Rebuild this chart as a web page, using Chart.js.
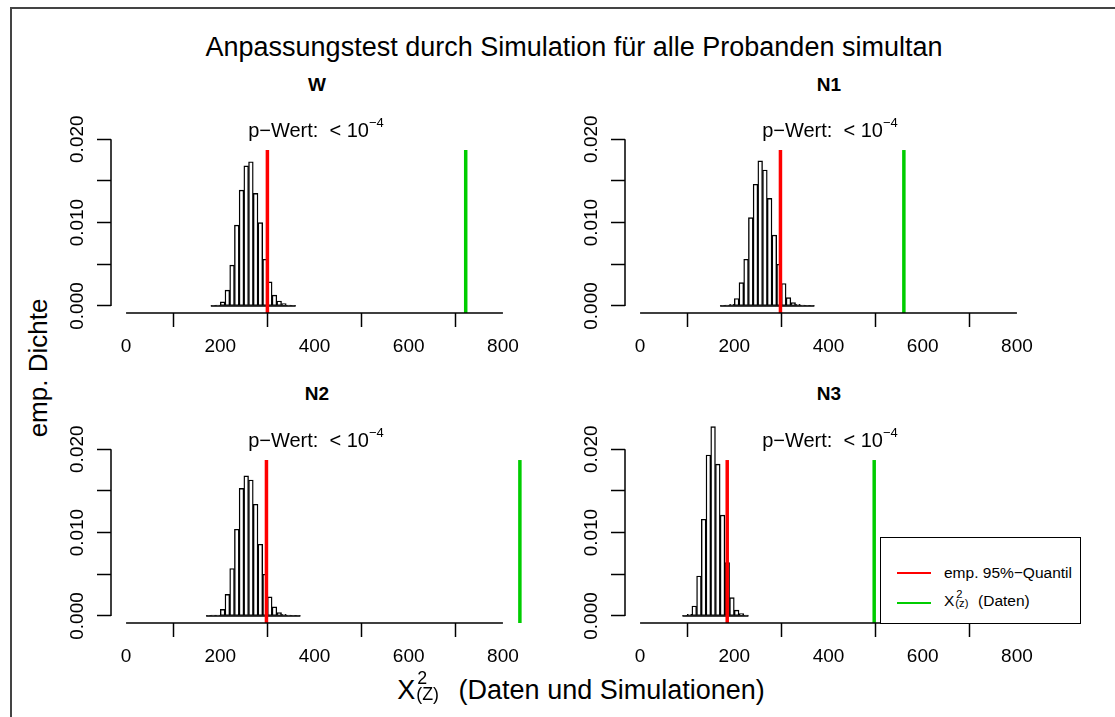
<!DOCTYPE html>
<html>
<head>
<meta charset="utf-8">
<script src="https://cdn.jsdelivr.net/npm/chart.js@4.4.1/dist/chart.umd.min.js"></script>
<style>
  body { margin: 0; background: #fff; }
  #page { position: relative; width: 1115px; height: 717px; overflow: hidden;
          font-family: "Liberation Sans", Arial, Helvetica, sans-serif; color: #000; }
  #frame { position: absolute; left: 10px; top: 7px; width: 1200px; height: 800px;
           border-left: 2px solid #444; border-top: 2px solid #444; }
  canvas { position: absolute; }
  .txt { position: absolute; white-space: nowrap; transform: translate(-50%, -50%); line-height: 1; }
  .ptitle { font-weight: bold; font-size: 19px; }
  .pval { font-size: 20px; }
  .pval sup { font-size: 13px; position: relative; top: -2px; }
  .ss { display: inline-block; position: relative; width: 1.05em; height: 1em; vertical-align: top; }
  .ss .up { position: absolute; left: 2px; top: -0.42em; font-size: 0.66em; }
  .ss .dn { position: absolute; left: 1px; top: 0.5em; font-size: 0.66em; }
  #legend { position: absolute; left: 880px; top: 537px; width: 199px; height: 85px;
            border: 1.5px solid #000; background: #fff; font-size: 15.5px; }
  #legend .ln { position: absolute; left: 16px; width: 34px; height: 2px; }
  #legend .lt { position: absolute; left: 63px; transform: translateY(-50%); white-space: nowrap; line-height: 1; }
  #legend .ss { width: 1.25em; }
  #legend .ss .up { top: -0.38em; font-size: 0.72em; }
  #legend .ss .dn { top: 0.45em; font-size: 0.72em; }
</style>
</head>
<body>
<div id="page">
  <div id="frame"></div>
  <div class="txt" style="left:574px; top:47px; font-size:27px;">Anpassungstest durch Simulation für alle Probanden simultan</div>

  <canvas id="cW" width="469" height="253" style="left:61px; top:110px;"></canvas>
  <canvas id="cN1" width="469" height="253" style="left:575px; top:110px;"></canvas>
  <canvas id="cN2" width="469" height="253" style="left:61px; top:420px;"></canvas>
  <canvas id="cN3" width="469" height="253" style="left:575px; top:420px;"></canvas>

  <div class="txt ptitle" style="left:317px; top:84px;">W</div>
  <div class="txt ptitle" style="left:829px; top:84px;">N1</div>
  <div class="txt ptitle" style="left:317px; top:393px;">N2</div>
  <div class="txt ptitle" style="left:829px; top:393px;">N3</div>

  <div class="txt pval" style="left:316px; top:129px;">p−Wert:&nbsp;&nbsp;&lt; 10<sup>−4</sup></div>
  <div class="txt pval" style="left:830px; top:129px;">p−Wert:&nbsp;&nbsp;&lt; 10<sup>−4</sup></div>
  <div class="txt pval" style="left:316px; top:439px;">p−Wert:&nbsp;&nbsp;&lt; 10<sup>−4</sup></div>
  <div class="txt pval" style="left:830px; top:439px;">p−Wert:&nbsp;&nbsp;&lt; 10<sup>−4</sup></div>

  <div class="txt" style="left:38px; top:368px; font-size:26px; transform:translate(-50%,-50%) rotate(-90deg);">emp. Dichte</div>
  <div class="txt" style="left:581px; top:690px; font-size:27px;">X<span class="ss"><span class="up">2</span><span class="dn">(Z)</span></span>&nbsp;&nbsp;(Daten und Simulationen)</div>

  <div id="legend">
    <div class="ln" style="top:34px; background:#ff0000;"></div>
    <div class="lt" style="top:35px;">emp. 95%−Quantil</div>
    <div class="ln" style="top:64px; background:#00cd00;"></div>
    <div class="lt" style="top:63px;">X<span class="ss"><span class="up">2</span><span class="dn">(z)</span></span> (Daten)</div>
  </div>
</div>

<script>
// axes
const xTicks = [0, 200, 400, 600, 800];
const yTicks = [0, 0.005, 0.01, 0.015, 0.02];
const yTickLabels = ["0.000", "", "0.010", "", "0.020"];
const xMin = -32, xMax = 832;
const yMin = -0.00084, yMax = 0.0235;

// histograms (density per bin of width 10)
const binWidth = 10;
const binStartW = 180;
const densityW = [0.00005, 0.0001, 0.0005, 0.0019, 0.0049, 0.0097, 0.0139, 0.0168, 0.0173,
                  0.0135, 0.0100, 0.0056, 0.0029, 0.0013, 0.0006, 0.0003, 0.0001, 0.00005];
const binStartN1 = 170;
const densityN1 = [0.00005, 0.0001, 0.0002, 0.0009, 0.0028, 0.0056, 0.0106, 0.0146, 0.0174, 0.0163,
                   0.0129, 0.0085, 0.0050, 0.0027, 0.0010, 0.0004, 0.0002, 0.0001, 0.00005, 0.00005];
const binStartN2 = 170;
const densityN2 = [0.00005, 0.0001, 0.0001, 0.0008, 0.0026, 0.0057, 0.0104, 0.0153, 0.0168, 0.0163,
                   0.0134, 0.0086, 0.0050, 0.0023, 0.0011, 0.0004, 0.0002, 0.0001, 0.00005, 0.00005];
const binStartN3 = 90;
const densityN3 = [0.00005, 0.0002, 0.0012, 0.0048, 0.0116, 0.0193, 0.0227, 0.0182, 0.0121,
                   0.0064, 0.0022, 0.0007, 0.0003, 0.0001];

// vertical markers
const quantile95 = { W: 300, N1: 298, N2: 298, N3: 185 };
const observedX2 = { W: 721, N1: 560, N2: 836, N3: 497 };
const markerTop = 0.0187;

const fontFamily = '"Liberation Sans", Arial, Helvetica, sans-serif';
Chart.defaults.font.family = fontFamily;

// R-style detached axis lines, rotated y labels, histogram baseline
const rAxes = {
  id: "rAxes",
  afterDatasetDraw(chart, args) {
    if (args.index !== 0) return;
    const { ctx, scales: { x, y } } = chart;
    const pts = chart.data.datasets[0].data;
    ctx.save();
    ctx.strokeStyle = "#000";
    ctx.lineWidth = 1.5;
    ctx.beginPath();
    ctx.moveTo(x.getPixelForValue(pts[0].x - binWidth / 2), y.getPixelForValue(0));
    ctx.lineTo(x.getPixelForValue(pts[pts.length - 1].x + binWidth / 2), y.getPixelForValue(0));
    ctx.stroke();
    ctx.restore();
  },
  afterDraw(chart) {
    const { ctx, chartArea, scales: { x, y } } = chart;
    ctx.save();
    ctx.strokeStyle = "#000";
    ctx.lineWidth = 1.5;
    ctx.beginPath();
    ctx.moveTo(x.getPixelForValue(xTicks[0]), chartArea.bottom);
    ctx.lineTo(x.getPixelForValue(xTicks[xTicks.length - 1]), chartArea.bottom);
    ctx.moveTo(chartArea.left, y.getPixelForValue(yTicks[0]));
    ctx.lineTo(chartArea.left, y.getPixelForValue(yTicks[yTicks.length - 1]));
    ctx.stroke();

    ctx.fillStyle = "#000";
    ctx.font = "19px " + fontFamily;
    ctx.textAlign = "center";
    ctx.textBaseline = "middle";
    yTicks.forEach((v, i) => {
      if (!yTickLabels[i]) return;
      ctx.save();
      ctx.translate(chartArea.left - 33, y.getPixelForValue(v));
      ctx.rotate(-Math.PI / 2);
      ctx.fillText(yTickLabels[i], 0, 0);
      ctx.restore();
    });
    ctx.restore();
  }
};

function makePanel(canvasId, name, binStart, density) {
  const bars = density.map((d, i) => ({ x: binStart + binWidth * (i + 0.5), y: d }));
  const q = quantile95[name];
  const obs = observedX2[name];

  new Chart(document.getElementById(canvasId), {
    type: "bar",
    data: {
      datasets: [
        {
          type: "bar",
          data: bars,
          backgroundColor: "#fff",
          borderColor: "#000",
          borderWidth: 1.4,
          borderSkipped: false,
          barPercentage: 1,
          categoryPercentage: 1,
          order: 3
        },
        {
          type: "line",
          data: [{ x: q, y: yMin }, { x: q, y: markerTop }],
          borderColor: "#ff0000",
          borderWidth: 3.5,
          pointRadius: 0,
          clip: false,
          order: 2
        },
        {
          type: "line",
          data: [{ x: obs, y: yMin }, { x: obs, y: markerTop }],
          borderColor: "#00cd00",
          borderWidth: 3.5,
          pointRadius: 0,
          clip: false,
          order: 1
        }
      ]
    },
    options: {
      responsive: false,
      animation: false,
      layout: { padding: { left: 0, right: 12, top: 0, bottom: 0 } },
      plugins: { legend: { display: false }, tooltip: { enabled: false } },
      scales: {
        x: {
          type: "linear",
          min: xMin,
          max: xMax,
          offset: false,
          afterBuildTicks: (s) => { s.ticks = xTicks.map((v) => ({ value: v })); },
          afterFit: (s) => { s.height = 50; s.paddingLeft = 0; s.paddingRight = 0; },
          grid: { drawOnChartArea: false, drawTicks: true, tickLength: 14, tickColor: "#000", tickWidth: 1.5 },
          border: { display: false },
          ticks: { color: "#000", font: { size: 19 }, padding: 8, maxRotation: 0, autoSkip: false,
                   callback: (v) => String(v) }
        },
        y: {
          min: yMin,
          max: yMax,
          afterBuildTicks: (s) => { s.ticks = yTicks.map((v) => ({ value: v })); },
          afterFit: (s) => { s.width = 50; s.paddingTop = 0; s.paddingBottom = 0; },
          grid: { drawOnChartArea: false, drawTicks: true, tickLength: 14, tickColor: "#000", tickWidth: 1.5 },
          border: { display: false },
          ticks: { display: false }
        }
      }
    },
    plugins: [rAxes]
  });
}

makePanel("cW", "W", binStartW, densityW);
makePanel("cN1", "N1", binStartN1, densityN1);
makePanel("cN2", "N2", binStartN2, densityN2);
makePanel("cN3", "N3", binStartN3, densityN3);
</script>
</body>
</html>
